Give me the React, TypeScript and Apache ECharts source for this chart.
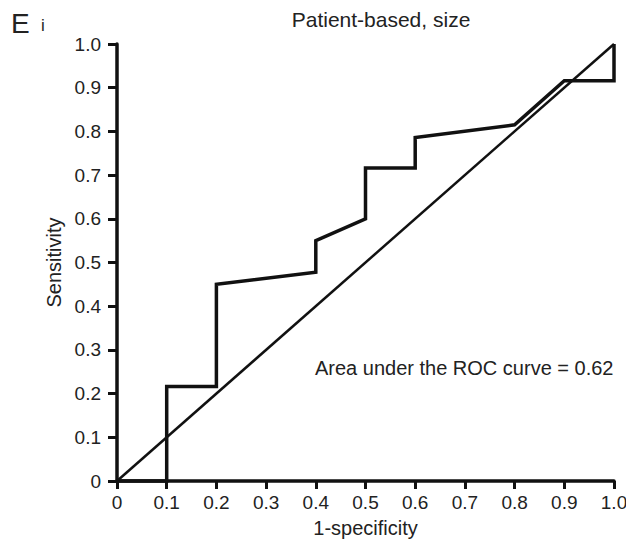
import React, { useEffect, useRef } from "react";
import * as echarts from "echarts";

const rocX = [0, 0.1, 0.1, 0.2, 0.2, 0.4, 0.4, 0.5, 0.5, 0.6, 0.6, 0.8, 0.9, 1.0, 1.0];
const rocY = [0, 0, 0.216, 0.216, 0.45, 0.478, 0.55, 0.6, 0.716, 0.716, 0.786, 0.815, 0.916, 0.916, 1.0];
const refX = [0, 1];
const refY = [0, 1];
const titleText = "Patient-based, size";
const xName = "1-specificity";
const yName = "Sensitivity";
const aucText = "Area under the ROC curve = 0.62";

const fmt = (v: number) => (v === 0 ? "0" : v.toFixed(1));

export default function App() {
  const ref = useRef<HTMLDivElement>(null);
  useEffect(() => {
    document.body.style.margin = "0";
    if (!ref.current) return;
    const chart = echarts.init(ref.current, null, { renderer: "svg" });
    const font = "Liberation Sans, Arial, sans-serif";
    chart.setOption({
      animation: false,
      backgroundColor: "#fff",
      textStyle: { fontFamily: font },
      title: [
        {
          text: titleText,
          left: 376,
          top: 4,
          textAlign: "center",
          textStyle: { fontSize: 21, fontWeight: "normal", color: "#222", fontFamily: font },
        },
      ],
      graphic: [
        { type: "text", left: 11, top: 9, style: { text: "E", fontSize: 28, fill: "#222", fontFamily: font } },
        { type: "text", left: 41, top: 17, style: { text: "i", fontSize: 17, fill: "#222", fontFamily: font } },
        { type: "text", left: 315, top: 358, style: { text: aucText, fontSize: 20, fill: "#222", fontFamily: font } },
      ],
      grid: { left: 117, right: 12, top: 44, bottom: 67, containLabel: false, outerBoundsMode: "none" },
      xAxis: {
        type: "value",
        min: 0,
        max: 1,
        interval: 0.1,
        name: xName,
        nameLocation: "middle",
        nameGap: 37,
        nameTextStyle: { fontSize: 20, color: "#222", fontFamily: font },
        axisLine: { show: true, onZero: false, lineStyle: { color: "#111", width: 3.5 } },
        axisTick: { show: true, length: 8, lineStyle: { color: "#111", width: 3 } },
        axisLabel: { formatter: fmt, fontSize: 19, color: "#222", margin: 12, fontFamily: font },
        splitLine: { show: false },
      },
      yAxis: {
        type: "value",
        min: 0,
        max: 1,
        interval: 0.1,
        name: yName,
        nameLocation: "middle",
        nameGap: 51,
        nameRotate: 90,
        nameTextStyle: { fontSize: 20, color: "#222", fontFamily: font },
        axisLine: { show: true, onZero: false, lineStyle: { color: "#111", width: 3.5 } },
        axisTick: { show: true, length: 9, lineStyle: { color: "#111", width: 3 } },
        axisLabel: { formatter: fmt, fontSize: 19, color: "#222", margin: 16, fontFamily: font },
        splitLine: { show: false },
      },
      series: [
        {
          type: "line",
          data: refX.map((x, i) => [x, refY[i]]),
          showSymbol: false,
          symbol: "none",
          clip: false,
          lineStyle: { color: "#111", width: 2.5 },
          silent: true,
        },
        {
          type: "line",
          data: rocX.map((x, i) => [x, rocY[i]]),
          showSymbol: false,
          symbol: "none",
          clip: false,
          lineStyle: { color: "#111", width: 3.5, join: "miter" },
          silent: true,
        },
      ],
    });
    return () => chart.dispose();
  }, []);
  return <div ref={ref} style={{ width: 626, height: 548 }} />;
}
